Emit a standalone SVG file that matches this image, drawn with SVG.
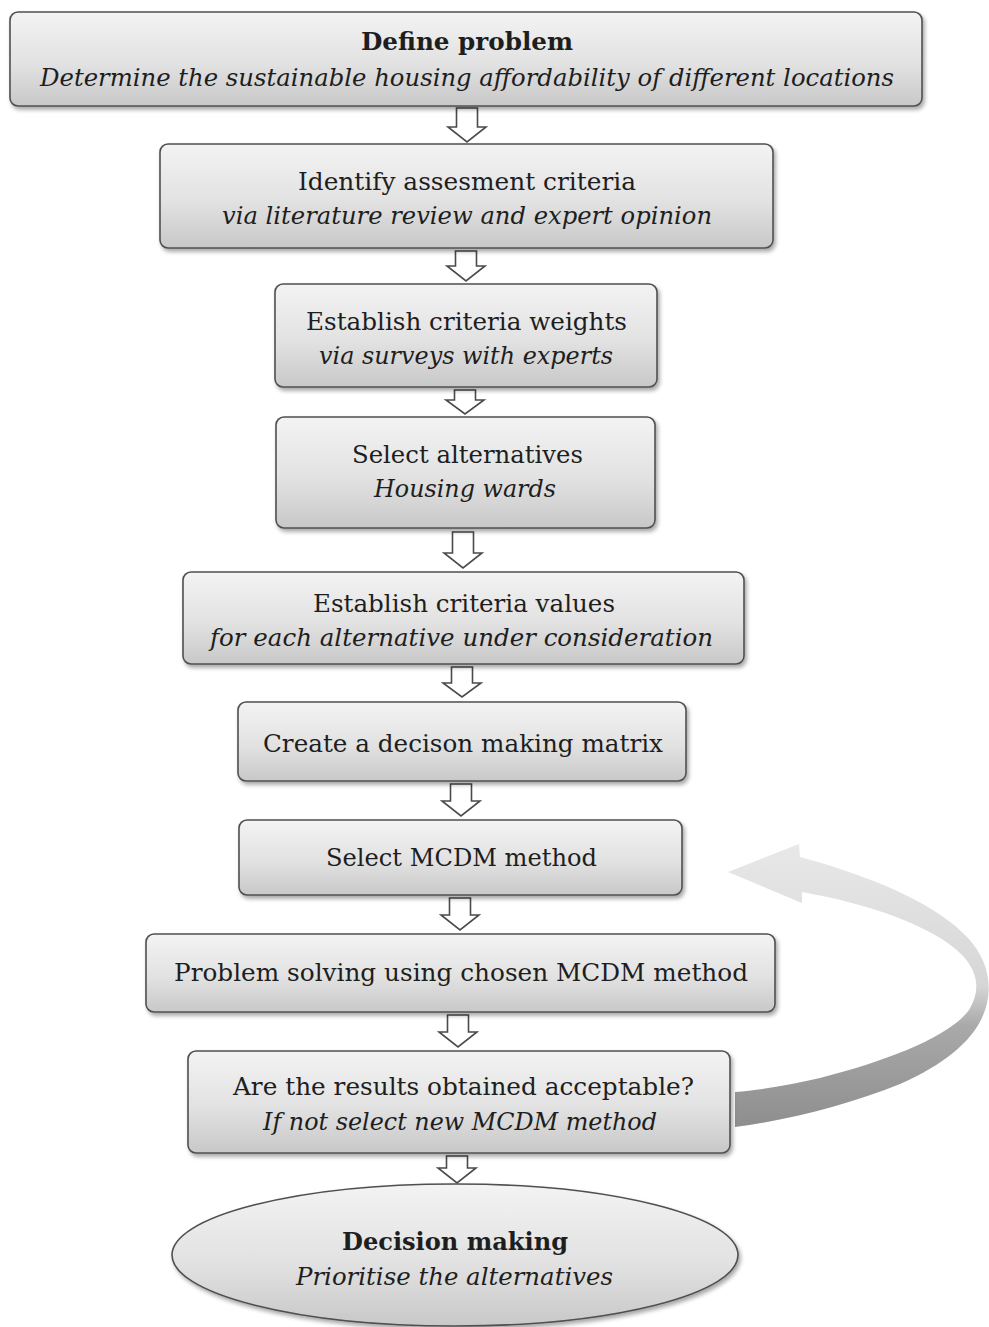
<svg xmlns="http://www.w3.org/2000/svg" width="989" height="1327" viewBox="0 0 989 1327">
  <defs>
    <linearGradient id="boxFill" x1="0" y1="0" x2="0" y2="1">
      <stop offset="0" stop-color="#f3f3f3"/>
      <stop offset="0.55" stop-color="#e2e2e2"/>
      <stop offset="1" stop-color="#c8c8c8"/>
    </linearGradient>
    <linearGradient id="loopFill" gradientUnits="userSpaceOnUse" x1="0" y1="845" x2="0" y2="1127">
      <stop offset="0" stop-color="#e8e8e8"/>
      <stop offset="0.5" stop-color="#d6d6d6"/>
      <stop offset="0.64" stop-color="#a9a9a9"/>
      <stop offset="1" stop-color="#8e8e8e"/>
    </linearGradient>
    <filter id="shadow" x="-5%" y="-20%" width="110%" height="150%">
      <feGaussianBlur in="SourceAlpha" stdDeviation="2"/>
      <feOffset dx="2" dy="3" result="b"/>
      <feComponentTransfer><feFuncA type="linear" slope="0.35"/></feComponentTransfer>
      <feMerge><feMergeNode/><feMergeNode in="SourceGraphic"/></feMerge>
    </filter>
  </defs>
  <style>
    .box { fill: url(#boxFill); stroke: #505050; stroke-width: 1.6; filter: url(#shadow); }
    .t { font-family: "DejaVu Serif", "Liberation Serif", serif; font-size: 25px; fill: #1e1e1e; text-anchor: middle; }
    .b { font-weight: bold; }
    .i { font-style: italic; }
    .arrow { fill: #ffffff; stroke: #4a4a4a; stroke-width: 1.6; stroke-linejoin: miter; }
    .loop { fill: url(#loopFill); stroke: none; }
  </style>

  <rect width="989" height="1327" fill="#ffffff"/>

  <!-- flow connectors -->
  <g id="connectors">
    <path class="arrow" d="M456.5 108 H477.5 V127 H486 L467 142 L448 127 H456.5 Z"/>
    <path class="arrow" d="M455.5 251 H476.5 V266 H485 L466 281 L447 266 H455.5 Z"/>
    <path class="arrow" d="M454.5 390 H475.5 V400 H484 L465 414 L446 400 H454.5 Z"/>
    <path class="arrow" d="M452.5 532 H473.5 V553 H482 L463 568 L444 553 H452.5 Z"/>
    <path class="arrow" d="M451.5 667 H472.5 V683 H481 L462 697 L443 683 H451.5 Z"/>
    <path class="arrow" d="M450.5 784 H471.5 V801 H480 L461 816 L442 801 H450.5 Z"/>
    <path class="arrow" d="M449.5 898 H470.5 V915 H479 L460 930 L441 915 H449.5 Z"/>
    <path class="arrow" d="M447.5 1015 H468.5 V1032 H477 L458 1047 L439 1032 H447.5 Z"/>
    <path class="arrow" d="M446.5 1156 H467.5 V1168 H476 L457 1183 L438 1168 H446.5 Z"/>
    <!-- feedback loop back to method selection -->
    <path class="loop" d="M735 1127 C790 1120 850 1104 900 1084 C950 1062 980 1035 987 1003 C992 980 986 958 968 938 C940 908 885 880 800 857 L799 844 L728 872 L802 903 L802 892 C870 904 935 927 962 955 C978 972 981 990 969 1010 C950 1036 890 1060 820 1078 C790 1085 760 1090 735 1092 Z"/>
  </g>

  <g id="n1">
    <rect class="box" x="10" y="12" width="912" height="94" rx="8"/>
    <text class="t b" x="467" y="50" textLength="212" lengthAdjust="spacingAndGlyphs">Define problem</text>
    <text class="t i" x="467" y="86" textLength="854" lengthAdjust="spacingAndGlyphs">Determine the sustainable housing affordability of different locations</text>
  </g>
  <g id="n2">
    <rect class="box" x="160" y="144" width="613" height="104" rx="8"/>
    <text class="t" x="467" y="190" textLength="338" lengthAdjust="spacingAndGlyphs">Identify assesment criteria</text>
    <text class="t i" x="467" y="224" textLength="490" lengthAdjust="spacingAndGlyphs">via literature review and expert opinion</text>
  </g>
  <g id="n3">
    <rect class="box" x="275" y="284" width="382" height="103" rx="8"/>
    <text class="t" x="466.5" y="330" textLength="321" lengthAdjust="spacingAndGlyphs">Establish criteria weights</text>
    <text class="t i" x="466" y="364" textLength="294" lengthAdjust="spacingAndGlyphs">via surveys with experts</text>
  </g>
  <g id="n4">
    <rect class="box" x="276" y="417" width="379" height="111" rx="8"/>
    <text class="t" x="467.5" y="463" textLength="231" lengthAdjust="spacingAndGlyphs">Select alternatives</text>
    <text class="t i" x="465" y="497" textLength="182" lengthAdjust="spacingAndGlyphs">Housing wards</text>
  </g>
  <g id="n5">
    <rect class="box" x="183" y="572" width="561" height="92" rx="8"/>
    <text class="t" x="464" y="612" textLength="302" lengthAdjust="spacingAndGlyphs">Establish criteria values</text>
    <text class="t i" x="461.5" y="646" textLength="503" lengthAdjust="spacingAndGlyphs">for each alternative under consideration</text>
  </g>
  <g id="n6">
    <rect class="box" x="238" y="702" width="448" height="79" rx="8"/>
    <text class="t" x="463" y="752" textLength="400" lengthAdjust="spacingAndGlyphs">Create a decison making matrix</text>
  </g>
  <g id="n7">
    <rect class="box" x="239" y="820" width="443" height="75" rx="8"/>
    <text class="t" x="461.5" y="866" textLength="271" lengthAdjust="spacingAndGlyphs">Select MCDM method</text>
  </g>
  <g id="n8">
    <rect class="box" x="146" y="934" width="629" height="78" rx="8"/>
    <text class="t" x="461" y="981" textLength="574" lengthAdjust="spacingAndGlyphs">Problem solving using chosen MCDM method</text>
  </g>
  <g id="n9">
    <rect class="box" x="188" y="1051" width="542" height="102" rx="8"/>
    <text class="t" x="463.5" y="1095" textLength="461" lengthAdjust="spacingAndGlyphs">Are the results obtained acceptable?</text>
    <text class="t i" x="460" y="1130" textLength="394" lengthAdjust="spacingAndGlyphs">If not select new MCDM method</text>
  </g>
  <g id="n10">
    <ellipse class="box" cx="455" cy="1255" rx="283" ry="71"/>
    <text class="t b" x="455" y="1250" textLength="226" lengthAdjust="spacingAndGlyphs">Decision making</text>
    <text class="t i" x="454.5" y="1285" textLength="317" lengthAdjust="spacingAndGlyphs">Prioritise the alternatives</text>
  </g>
</svg>
